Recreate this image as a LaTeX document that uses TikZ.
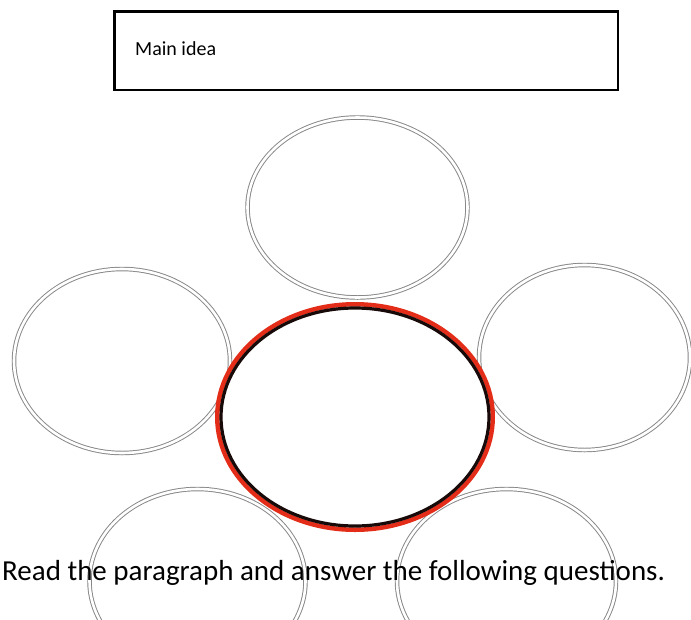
\documentclass[tikz,border=0pt]{standalone}
\usepackage{fontspec}
\setmainfont{Carlito}
\usetikzlibrary{shapes.geometric}
\definecolor{ringgray}{RGB}{135,135,135}
\definecolor{ringred}{RGB}{228,45,25}
\definecolor{ringdark}{RGB}{25,10,10}
\tikzset{
  % Tashqi pufakchalar (ikki chiziqli)
  bubble/.style  = {ellipse, draw=ringgray, double=white, double distance=2.6pt,
                    line width=0.95pt, inner sep=0pt,
                    minimum width=216pt, minimum height=184pt},
  % Markaziy pufakcha
  hubred/.style  = {ellipse, draw=ringred, fill=white, line width=4.5pt, inner sep=0pt,
                    minimum width=275.5pt, minimum height=225.5pt},
  hubdark/.style = {ellipse, draw=ringdark, line width=3.2pt, inner sep=0pt,
                    minimum width=268pt, minimum height=218pt},
  % Sarlavha qutisi
  ideabox/.style = {draw, line width=2.5pt, inner sep=0pt,
                    minimum width=503.5pt, minimum height=78.5pt},
  % Matnlar
  lab/.style     = {inner sep=0pt, anchor=base west},
}
\begin{document}
\begin{tikzpicture}[x=1pt,y=-1pt]
  \useasboundingbox (0,0) rectangle (691,619);
  % Sarlavha
  \node[ideabox] (box) at (366,50.5) {};
  \node[lab, font=\fontsize{20}{24}\selectfont] (boxlbl) at (135,55) {Main idea};
  % Tashqi pufakchalar
  \node[bubble, minimum width=220pt, minimum height=180pt] (top) at (357.5,207.5) {};
  \node[bubble] (left) at (122,361) {};
  \node[bubble, minimum width=211pt, minimum height=185pt] (right) at (584.5,357.5) {};
  \node[bubble] (botleft) at (197.5,581) {};
  \node[bubble, minimum width=219pt] (botright) at (506.5,581) {};
  % Markaziy pufakcha
  \node[hubred] (hub) at (355,417) {};
  \node[hubdark] (hubin) at (hub.center) {};
  % Topshiriq matni
  \node[lab, font=\fontsize{29}{34}\selectfont] (task) at (2,580)
    {Read the paragraph and answer the following questions.};
\end{tikzpicture}
\end{document}
